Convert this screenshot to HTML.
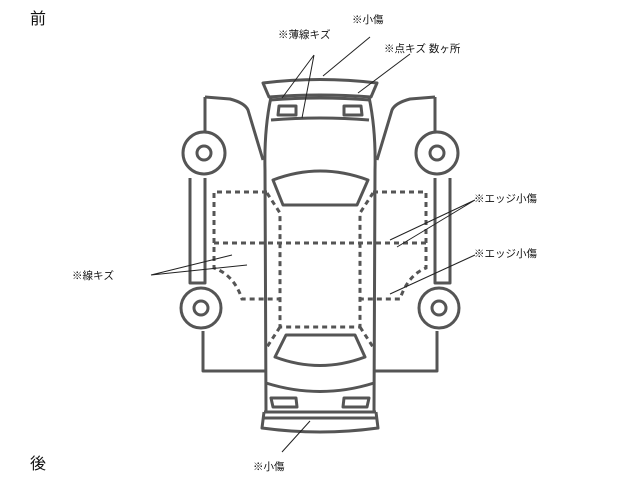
<!DOCTYPE html>
<html><head><meta charset="utf-8"><style>
html,body{margin:0;padding:0;background:#fff;}
svg{display:block}
text{font-family:"Liberation Sans","Noto Sans CJK JP",sans-serif;fill:#111;}
</style></head><body>
<svg width="640" height="480" viewBox="0 0 640 480" xmlns="http://www.w3.org/2000/svg">
<text x="30" y="24" font-size="16">前</text>
<text x="30" y="469" font-size="16">後</text>
<g font-size="10.5">
<text x="352" y="23">※小傷</text>
<text x="278" y="38">※薄線キズ</text>
<text x="384" y="52">※点キズ 数ヶ所</text>
<text x="474" y="202">※エッジ小傷</text>
<text x="474" y="257">※エッジ小傷</text>
<text x="72" y="279">※線キズ</text>
<text x="253" y="470">※小傷</text>
</g>
<g fill="none" stroke="#555" stroke-width="3" stroke-linejoin="round">
<!-- left doors/fenders -->
<path d="M205,97 L230,99 Q245,103 248,110 L263,160"/>
<path d="M205,97 L205,131"/>
<circle cx="204" cy="153" r="21"/>
<circle cx="204" cy="153" r="7"/>
<path d="M190,178 L190,283 L205,283 L205,178"/>
<circle cx="201" cy="308" r="20"/>
<circle cx="201" cy="308" r="7"/>
<path d="M203,331 L203,371 L265,371"/>
<!-- right -->
<path d="M435,97 L410,99 Q395,103 392,110 L377,160"/>
<path d="M435,97 L435,131"/>
<circle cx="437" cy="153" r="21"/>
<circle cx="437" cy="153" r="7"/>
<path d="M450,178 L450,283 L435,283 L435,178"/>
<circle cx="439" cy="308" r="20"/>
<circle cx="439" cy="308" r="7"/>
<path d="M437,331 L437,371 L375,371"/>
<!-- body -->
<path d="M271,97 Q264,130 265,170 L266,412 M369,97 Q376,130 375,170 L374,412"/>
<path d="M263,83 Q320,76 377,83 L371,97 Q320,93 269,97 Z"/>
<path d="M270,100 Q320,96 370,100"/>
<path d="M271,120 Q320,116 369,120"/>
<path d="M279,106 L296,106 L296,115 L278,115 Z"/>
<path d="M344,106 L361,106 L362,115 L344,115 Z"/>
<path d="M273,180 Q320,162 368,180 L357,205 L283,205 Z"/>
<path d="M286,335 L355,335 L365,357 Q320,374 275,357 Z"/>
<path d="M266,383 Q320,400 374,383"/>
<path d="M271,398 L296,398 L297,407 L273,407 Z"/>
<path d="M344,398 L369,398 L367,407 L343,407 Z"/>
<path d="M264,412 L376,412 M264,418 L376,418 M264,412 L262,428 Q320,436 378,428 L376,412"/>
</g>
<g fill="none" stroke="#555" stroke-width="3" stroke-dasharray="5,4">
<path d="M267,192 L214,192 L214,268 Q234,275 242,299 L280,299"/>
<path d="M373,192 L426,192 L426,268 Q408,275 400,299 L360,299"/>
<path d="M214,243 L426,243"/>
<path d="M267,193 L280,213 L280,327 L360,327 L360,213 L373,193"/>
<path d="M280,327 L267,347 M360,327 L373,347"/>
</g>
<g stroke="#222" stroke-width="1" fill="none">
<path d="M314,55 L282,98 M314,55 L302,118"/>
<path d="M370,37 L323,76"/>
<path d="M410,54 L358,93"/>
<path d="M475,200 L390,240 M475,200 L397,247"/>
<path d="M475,255 L390,294"/>
<path d="M151,275 L232,255 M151,275 L247,265"/>
<path d="M282,452 L310,421"/>
</g>
</svg>
</body></html>
